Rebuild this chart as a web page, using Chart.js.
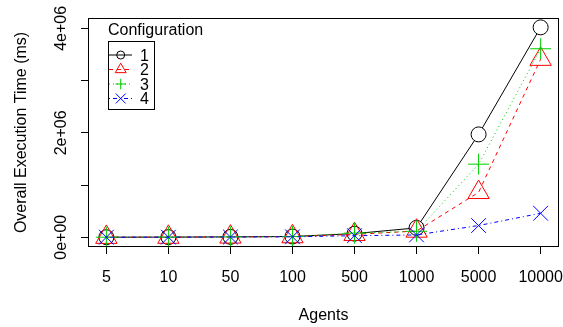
<!DOCTYPE html>
<html><head><meta charset="utf-8">
<script src="https://cdn.jsdelivr.net/npm/chart.js@4"></script>
<style>html,body{margin:0;padding:0;background:#fff}canvas{display:block}</style>
</head><body>
<canvas id="c" width="563" height="327"></canvas>
<script>
// ---- data ----
const agents = ['5', '10', '50', '100', '500', '1000', '5000', '10000'];
const config1 = [1500, 3000, 8000, 15000, 70000, 180000, 1970000, 4020000];
const config2 = [1200, 2500, 7000, 13000, 55000, 120000, 860000, 3410000];
const config3 = [1300, 2800, 7500, 14000, 80000, 115000, 1400000, 3610000];
const config4 = [1000, 2000, 5000, 9000, 30000, 45000, 225000, 460000];
const seriesNames = ['1', '2', '3', '4'];
const yTickValues = [0, 1e6, 2e6, 3e6, 4e6];
const yTickLabels = ['0e+00', '', '2e+06', '', '4e+06'];
const legendTitle = 'Configuration';
const xTitle = 'Agents';
const yTitle = 'Overall Execution Time (ms)';

// ---- styles ----
const FONT = '"Liberation Sans", Arial, Helvetica, sans-serif';
const FS = 16;
const styles = [
  {color: '#000000', dash: [], point: 'circle', r: 7.5, lr: 4, fill: '#FFFFFF'},
  {color: '#FF0000', dash: [4, 4], point: 'triangle', r: 12.3, lr: 6.3, fill: 'rgba(0,0,0,0)'},
  {color: '#00CD00', dash: [1, 3], point: 'cross', r: 10.5, lr: 5.3, fill: 'rgba(0,0,0,0)'},
  {color: '#0000FF', dash: [1, 3, 4, 3], point: 'crossRot', r: 10.4, lr: 7, fill: 'rgba(0,0,0,0)'}
];
const seriesData = [config1, config2, config3, config4];

function drawMarker(ctx, style, radius, x, y) {
  ctx.save();
  ctx.strokeStyle = style.color;
  ctx.fillStyle = 'rgba(0,0,0,0)';
  ctx.lineWidth = 1;
  ctx.setLineDash([]);
  if (Chart.helpers && Chart.helpers.drawPoint) {
    Chart.helpers.drawPoint(ctx, {pointStyle: style.point, radius: radius, borderWidth: 1, rotation: 0}, x, y);
  } else {
    ctx.beginPath();
    ctx.arc(x, y, radius, 0, Math.PI * 2);
    ctx.stroke();
  }
  ctx.restore();
}

const rPlugin = {
  id: 'rstyle',
  afterDraw(chart) {
    const ctx = chart.ctx, a = chart.chartArea;
    ctx.save();
    // plot box
    ctx.strokeStyle = '#000';
    ctx.lineWidth = 1;
    ctx.setLineDash([]);
    ctx.strokeRect(Math.round(a.left) - 0.5, Math.round(a.top) - 0.5,
                   Math.round(a.right - a.left) + 1, Math.round(a.bottom - a.top) + 1);
    ctx.font = FS + 'px ' + FONT;
    ctx.fillStyle = '#000';
    // x tick labels
    const xs = chart.scales.x;
    ctx.textAlign = 'center';
    ctx.textBaseline = 'alphabetic';
    agents.forEach((lab, i) => {
      ctx.fillText(lab, xs.getPixelForValue(i + 1), 281.5);
    });
    // rotated y tick labels
    const ys = chart.scales.y;
    yTickValues.forEach((v, i) => {
      if (!yTickLabels[i]) return;
      const py = ys.getPixelForValue(v);
      ctx.save();
      ctx.translate(65.5, py);
      ctx.rotate(-Math.PI / 2);
      ctx.fillText(yTickLabels[i], 0, 0);
      ctx.restore();
    });
    // legend
    ctx.textAlign = 'left';
    ctx.fillText(legendTitle, 108, 34.5);
    ctx.strokeStyle = '#000';
    ctx.strokeRect(108.5, 41.5, 46, 68);
    chart.data.datasets.forEach((ds, i) => {
      const st = styles[i];
      const ry = 55 + i * 14.5;
      ctx.save();
      ctx.strokeStyle = st.color;
      ctx.lineWidth = 1;
      ctx.setLineDash(st.dash);
      ctx.beginPath();
      ctx.moveTo(109, ry);
      ctx.lineTo(132, ry);
      ctx.stroke();
      ctx.restore();
      drawMarker(ctx, st, st.lr, 120.7, ry);
      ctx.fillStyle = '#000';
      ctx.font = FS + 'px ' + FONT;
      ctx.fillText(ds.label, 140, ry + 5.7);
    });
    ctx.restore();
  }
};

const datasets = seriesData.map((vals, i) => ({
  label: seriesNames[i],
  data: vals.map((v, j) => ({x: j + 1, y: v})),
  borderColor: styles[i].color,
  backgroundColor: 'rgba(0,0,0,0)',
  borderWidth: 1,
  borderDash: styles[i].dash,
  tension: 0,
  fill: false,
  pointStyle: styles[i].point,
  pointRadius: styles[i].r,
  pointBorderColor: styles[i].color,
  pointBackgroundColor: styles[i].fill,
  pointBorderWidth: 1,
  order: 3 - i,
  clip: false
}));

new Chart(document.getElementById('c'), {
  type: 'line',
  data: {datasets: datasets},
  plugins: [rPlugin],
  options: {
    responsive: false,
    animation: false,
    events: [],
    layout: {autoPadding: false, padding: {top: 19, right: 5, left: 0, bottom: 0}},
    plugins: {legend: {display: false}, tooltip: {enabled: false}},
    scales: {
      x: {
        type: 'linear',
        min: 0.72, max: 8.28,
        afterBuildTicks: s => { s.ticks = agents.map((_, i) => ({value: i + 1})); },
        afterFit: s => { s.height = 81; s.paddingLeft = 0; s.paddingRight = 0; },
        grid: {drawOnChartArea: false, drawTicks: true, tickLength: 8, color: '#000', lineWidth: 1},
        border: {display: false},
        ticks: {display: false},
        title: {display: true, text: xTitle, color: '#000', font: {family: FONT, size: FS}, padding: {top: 0, bottom: 1.5}}
      },
      y: {
        type: 'linear',
        min: -167000, max: 4180000,
        afterBuildTicks: s => { s.ticks = yTickValues.map(v => ({value: v})); },
        afterFit: s => { s.width = 89; s.paddingTop = 0; s.paddingBottom = 0; },
        grid: {drawOnChartArea: false, drawTicks: true, tickLength: 8, color: '#000', lineWidth: 1},
        border: {display: false},
        ticks: {display: false},
        title: {display: true, text: yTitle, color: '#000', font: {family: FONT, size: FS}, padding: {top: 12, bottom: 0}}
      }
    }
  }
});
</script>
</body></html>
